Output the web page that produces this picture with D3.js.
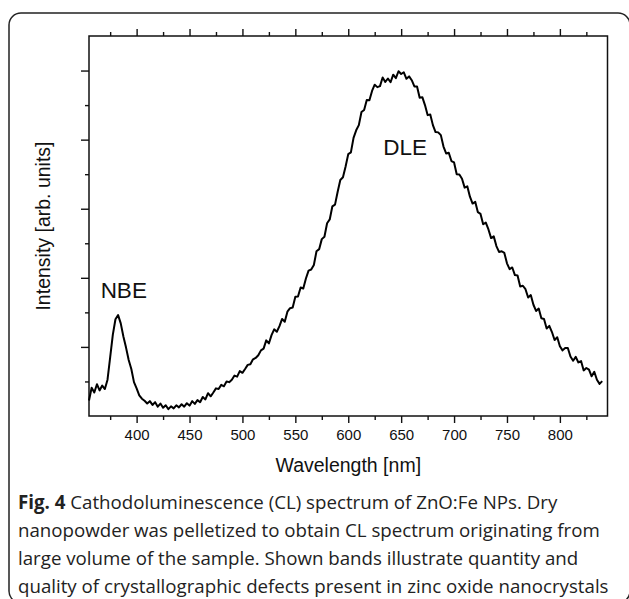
<!DOCTYPE html>
<html>
<head>
<meta charset="utf-8">
<script src="https://cdn.jsdelivr.net/npm/d3@7"></script>
<style>
  html, body { margin: 0; padding: 0; background: #fff; }
  svg { display: block; }
</style>
</head>
<body>
<script>
// Cathodoluminescence spectrum of ZnO:Fe nanoparticles
const wavelengthNm = [
  355, 357.5, 360, 362.5, 365, 367.5, 370, 372.5, 375, 377.5,
  380, 382.5, 385, 387.5, 390, 392.5, 395, 397.5, 400, 402.5,
  405, 407.5, 410, 412.5, 415, 417.5, 420, 422.5, 425, 427.5,
  430, 432.5, 435, 437.5, 440, 442.5, 445, 447.5, 450, 452.5,
  455, 457.5, 460, 462.5, 465, 467.5, 470, 472.5, 475, 477.5,
  480, 482.5, 485, 487.5, 490, 492.5, 495, 497.5, 500, 502.5,
  505, 507.5, 510, 512.5, 515, 517.5, 520, 522.5, 525, 527.5,
  530, 532.5, 535, 537.5, 540, 542.5, 545, 547.5, 550, 552.5,
  555, 557.5, 560, 562.5, 565, 567.5, 570, 572.5, 575, 577.5,
  580, 582.5, 585, 587.5, 590, 592.5, 595, 597.5, 600, 602.5,
  605, 607.5, 610, 612.5, 615, 617.5, 620, 622.5, 625, 627.5,
  630, 632.5, 635, 637.5, 640, 642.5, 645, 647.5, 650, 652.5,
  655, 657.5, 660, 662.5, 665, 667.5, 670, 672.5, 675, 677.5,
  680, 682.5, 685, 687.5, 690, 692.5, 695, 697.5, 700, 702.5,
  705, 707.5, 710, 712.5, 715, 717.5, 720, 722.5, 725, 727.5,
  730, 732.5, 735, 737.5, 740, 742.5, 745, 747.5, 750, 752.5,
  755, 757.5, 760, 762.5, 765, 767.5, 770, 772.5, 775, 777.5,
  780, 782.5, 785, 787.5, 790, 792.5, 795, 797.5, 800, 802.5,
  805, 807.5, 810, 812.5, 815, 817.5, 820, 822.5, 825, 827.5,
  830, 832.5, 835, 837.5, 840
];

const intensityArb = [
  0.45, 0.82, 0.68, 0.92, 0.74, 0.88, 0.78, 1.05, 1.70, 2.35,
  2.80, 2.92, 2.68, 2.30, 1.98, 1.62, 1.36, 0.98, 0.80, 0.60,
  0.50, 0.44, 0.36, 0.43, 0.32, 0.40, 0.27, 0.36, 0.24, 0.31,
  0.20, 0.28, 0.22, 0.31, 0.25, 0.34, 0.27, 0.37, 0.30, 0.43,
  0.35, 0.46, 0.40, 0.55, 0.48, 0.66, 0.57, 0.68, 0.80, 0.78,
  0.90, 0.86, 1.00, 0.98, 1.05, 1.17, 1.14, 1.30, 1.25, 1.36,
  1.48, 1.50, 1.64, 1.68, 1.76, 1.90, 1.95, 2.19, 2.10, 2.34,
  2.51, 2.44, 2.60, 2.81, 2.73, 3.02, 3.12, 3.14, 3.45, 3.46,
  3.72, 3.69, 3.98, 4.21, 4.24, 4.37, 4.77, 4.83, 5.12, 5.19,
  5.58, 5.69, 6.07, 6.12, 6.49, 6.83, 6.91, 7.22, 7.58, 7.63,
  8.05, 8.27, 8.42, 8.80, 8.86, 9.15, 9.14, 9.41, 9.59, 9.52,
  9.55, 9.80, 9.67, 9.77, 9.66, 9.88, 9.78, 9.98, 9.90, 9.95,
  9.76, 9.83, 9.72, 9.54, 9.54, 9.21, 9.23, 9.00, 8.71, 8.73,
  8.42, 8.22, 8.21, 8.13, 7.80, 7.60, 7.62, 7.38, 7.34, 7.00,
  6.99, 6.87, 6.61, 6.65, 6.35, 6.15, 6.20, 5.90, 5.85, 5.55,
  5.60, 5.40, 5.15, 5.20, 4.92, 4.75, 4.77, 4.72, 4.42, 4.25,
  4.30, 4.08, 4.07, 3.75, 3.77, 3.67, 3.43, 3.50, 3.22, 3.04,
  3.11, 2.83, 2.81, 2.53, 2.61, 2.43, 2.20, 2.28, 2.02, 1.90,
  1.97, 1.97, 1.72, 1.60, 1.71, 1.55, 1.59, 1.32, 1.39, 1.34,
  1.15, 1.28, 1.05, 0.93, 1.01
];

const xMajorTicks = [400, 450, 500, 550, 600, 650, 700, 750, 800];
const xMinorTicks = [375, 425, 475, 525, 575, 625, 675, 725, 775, 825];
const yMajorTicks = [2, 4, 6, 8, 10];
const yMinorTicks = [1, 3, 5, 7, 9];

const bandLabels = ["NBE", "DLE"];
const xTitle = "Wavelength [nm]";
const yTitle = "Intensity [arb. units]";
const captionLines = [
  ["Fig. 4", " Cathodoluminescence (CL) spectrum of ZnO:Fe NPs. Dry"],
  ["", "nanopowder was pelletized to obtain CL spectrum originating from"],
  ["", "large volume of the sample. Shown bands illustrate quantity and"],
  ["", "quality of crystallographic defects present in zinc oxide nanocrystals"]
];

const W = 629, H = 599;
const svg = d3.select("body").append("svg")
  .attr("width", W).attr("height", H)
  .attr("viewBox", `0 0 ${W} ${H}`);

svg.append("rect").attr("width", W).attr("height", H).attr("fill", "#fff");

// rounded figure frame (runs past the right and bottom edges)
svg.append("rect")
  .attr("x", 9).attr("y", 13)
  .attr("width", 621).attr("height", 590)
  .attr("rx", 12).attr("ry", 12)
  .attr("fill", "none").attr("stroke", "#222").attr("stroke-width", 1.5);

const plot = { left: 89, right: 607.5, top: 36, bottom: 416 };

const x = d3.scaleLinear().domain([355, 845]).range([plot.left, plot.right]);
const y = d3.scaleLinear().domain([0, 11]).range([plot.bottom, plot.top]);

const axisFont = "'Liberation Sans', Arial, Helvetica, sans-serif";

function styleAxis(g) {
  g.select(".domain").remove();
  g.selectAll(".tick line").attr("stroke", "#111").attr("stroke-width", 1.4);
  g.selectAll(".tick text")
    .attr("fill", "#111")
    .style("font-family", axisFont)
    .style("font-size", "15px");
}

// bottom axis
svg.append("g").attr("transform", `translate(0,${plot.bottom})`)
  .call(d3.axisBottom(x).tickValues(xMinorTicks).tickSize(4).tickSizeOuter(0).tickFormat(""))
  .call(styleAxis);
svg.append("g").attr("transform", `translate(0,${plot.bottom})`)
  .call(d3.axisBottom(x).tickValues(xMajorTicks).tickSize(7).tickSizeOuter(0)
    .tickPadding(6).tickFormat(d3.format("d")))
  .call(styleAxis);

// top axis (ticks only)
svg.append("g").attr("transform", `translate(0,${plot.top})`)
  .call(d3.axisTop(x).tickValues(xMinorTicks).tickSize(4).tickSizeOuter(0).tickFormat(""))
  .call(styleAxis);
svg.append("g").attr("transform", `translate(0,${plot.top})`)
  .call(d3.axisTop(x).tickValues(xMajorTicks).tickSize(7).tickSizeOuter(0).tickFormat(""))
  .call(styleAxis);

// left axis (ticks only)
svg.append("g").attr("transform", `translate(${plot.left},0)`)
  .call(d3.axisLeft(y).tickValues(yMinorTicks).tickSize(4).tickSizeOuter(0).tickFormat(""))
  .call(styleAxis);
svg.append("g").attr("transform", `translate(${plot.left},0)`)
  .call(d3.axisLeft(y).tickValues(yMajorTicks).tickSize(8).tickSizeOuter(0).tickFormat(""))
  .call(styleAxis);

// plot box
svg.append("rect")
  .attr("x", plot.left).attr("y", plot.top)
  .attr("width", plot.right - plot.left).attr("height", plot.bottom - plot.top)
  .attr("fill", "none").attr("stroke", "#111").attr("stroke-width", 1.5);

// spectrum
const spectrum = wavelengthNm.map((w, i) => [w, intensityArb[i]]);
svg.append("path")
  .datum(spectrum)
  .attr("fill", "none")
  .attr("stroke", "#000")
  .attr("stroke-width", 2)
  .attr("stroke-linejoin", "round")
  .attr("d", d3.line().x(d => x(d[0])).y(d => y(d[1])));

// band labels
svg.append("text")
  .attr("x", x(366)).attr("y", y(3.42))
  .style("font-family", axisFont).style("font-size", "22.5px").attr("fill", "#111")
  .text(bandLabels[0]);
svg.append("text")
  .attr("x", x(633)).attr("y", y(7.55))
  .style("font-family", axisFont).style("font-size", "22.5px").attr("fill", "#111")
  .text(bandLabels[1]);

// axis titles
svg.append("text")
  .attr("x", (plot.left + plot.right) / 2).attr("y", 472)
  .attr("text-anchor", "middle")
  .style("font-family", axisFont).style("font-size", "19.5px").attr("fill", "#111")
  .text(xTitle);
svg.append("text")
  .attr("transform", `translate(50,${(plot.top + plot.bottom) / 2}) rotate(-90)`)
  .attr("text-anchor", "middle")
  .style("font-family", axisFont).style("font-size", "19.5px").attr("fill", "#111")
  .text(yTitle);

// caption
const caption = svg.append("g")
  .style("font-family", "'Open Sans', 'Noto Sans', sans-serif")
  .style("font-size", "18.7px")
  .attr("fill", "#222");
captionLines.forEach((parts, i) => {
  const t = caption.append("text").attr("x", 18).attr("y", 509 + i * 28);
  if (parts[0]) t.append("tspan").style("font-weight", "bold").text(parts[0]);
  t.append("tspan").text(parts[1]);
});
</script>
</body>
</html>
